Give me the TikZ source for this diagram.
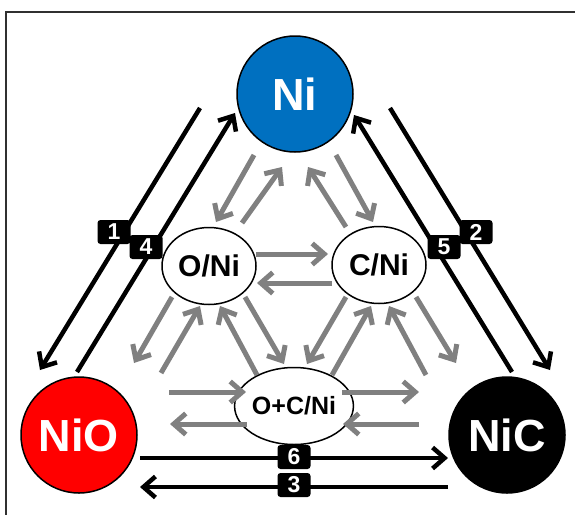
\documentclass[tikz,border=0pt]{standalone}
\usepackage{fontspec}
\setmainfont{Liberation Sans}
\usetikzlibrary{arrows.meta,shapes.geometric}
\definecolor{niblue}{HTML}{0070C0}
\definecolor{nired}{HTML}{FF0000}
\definecolor{garr}{HTML}{808080}
\definecolor{frame}{HTML}{303030}
\begin{document}
\begin{tikzpicture}[x=1pt,y=-1pt,
 bigc/.style={circle,draw=black,line width=1.5pt,minimum size=116pt,inner sep=0pt,font=\fontsize{45}{45}\selectfont\bfseries,text=white},
 smallc/.style={ellipse,draw=black,line width=1.5pt,minimum width=94pt,minimum height=77pt,inner sep=0pt,fill=white,font=\fontsize{30}{30}\selectfont\bfseries},
 garrow/.style={draw=garr,line width=5pt,-{Straight Barb[length=12pt,width=21pt]}},
 barrow/.style={draw=black,line width=4.5pt,-{Straight Barb[length=12pt,width=21pt]}},
 numlab/.style={fill=black,text=white,rounded corners=3pt,minimum width=33pt,minimum height=24pt,inner sep=0pt,font=\fontsize{23}{23}\selectfont\bfseries}
]
\useasboundingbox (0,0) rectangle (575,514);
\clip (0,0) rectangle (575,514);
\draw[frame,line width=2pt] (6,12) rectangle (600,540);

% main nodes
\node[bigc,fill=niblue] (Ni) at (295,94) {Ni};
\node[bigc,fill=nired] (NiO) at (79,435) {NiO};
\node[bigc,fill=black] (NiC) at (507,435) {NiC};
\node[smallc] (ONi) at (209,266) {O/Ni};
\node[smallc] (CNi) at (379,265) {C/Ni};
\node[smallc,font=\fontsize{25}{25}\selectfont\bfseries,minimum width=93pt,minimum height=77pt] (OCNi) at (294,406) {O+C/Ni};

% gray arrow end points
\coordinate (a1s) at (254,155); \coordinate (a1e) at (216,222);
\coordinate (a2s) at (242,223); \coordinate (a2e) at (282,167);
\coordinate (a3s) at (346,227); \coordinate (a3e) at (308,167);
\coordinate (a4s) at (336,155); \coordinate (a4e) at (373,222);
\coordinate (a5s) at (256,254); \coordinate (a5e) at (328,254);
\coordinate (a6s) at (332,283); \coordinate (a6e) at (257,283);
\coordinate (a7s) at (172,297); \coordinate (a7e) at (134,363);
\coordinate (a8s) at (161,373); \coordinate (a8e) at (200,306);
\coordinate (a9s) at (257,375); \coordinate (a9e) at (220,306);
\coordinate (a10s) at (245,297); \coordinate (a10e) at (284,364);
\coordinate (a11s) at (346,297); \coordinate (a11e) at (307,364);
\coordinate (a12s) at (332,375); \coordinate (a12e) at (371,306);
\coordinate (a13s) at (426,375); \coordinate (a13e) at (389,306);
\coordinate (a14s) at (416,297); \coordinate (a14e) at (456,363);
\coordinate (a15s) at (169,392); \coordinate (a15e) at (246,392);
\coordinate (a16s) at (247,424); \coordinate (a16e) at (170,424);
\coordinate (a17s) at (342,392); \coordinate (a17e) at (419,392);
\coordinate (a18s) at (419,424); \coordinate (a18e) at (343,424);
\foreach \i in {1,...,18} \draw[garrow] (a\i s) -- (a\i e);

% black arrows
\coordinate (b1s) at (200,108); \coordinate (b1e) at (40,370);
\coordinate (b4s) at (77,372);  \coordinate (b4e) at (235,113);
\coordinate (b2s) at (390,108); \coordinate (b2e) at (550,370);
\coordinate (b5s) at (512,372); \coordinate (b5e) at (354,115);
\coordinate (b6s) at (140,458); \coordinate (b6e) at (448,458);
\coordinate (b3s) at (448,487); \coordinate (b3e) at (140,487);
\foreach \i in {1,...,6} \draw[barrow] (b\i s) -- (b\i e);

% labels
\node[numlab] (l1) at (114,232) {1};
\node[numlab] (l4) at (146,247) {4};
\node[numlab] (l2) at (476,232) {2};
\node[numlab] (l5) at (444,247) {5};
\node[numlab] (l6) at (294,457) {6};
\node[numlab] (l3) at (294,485) {3};
\end{tikzpicture}
\end{document}
